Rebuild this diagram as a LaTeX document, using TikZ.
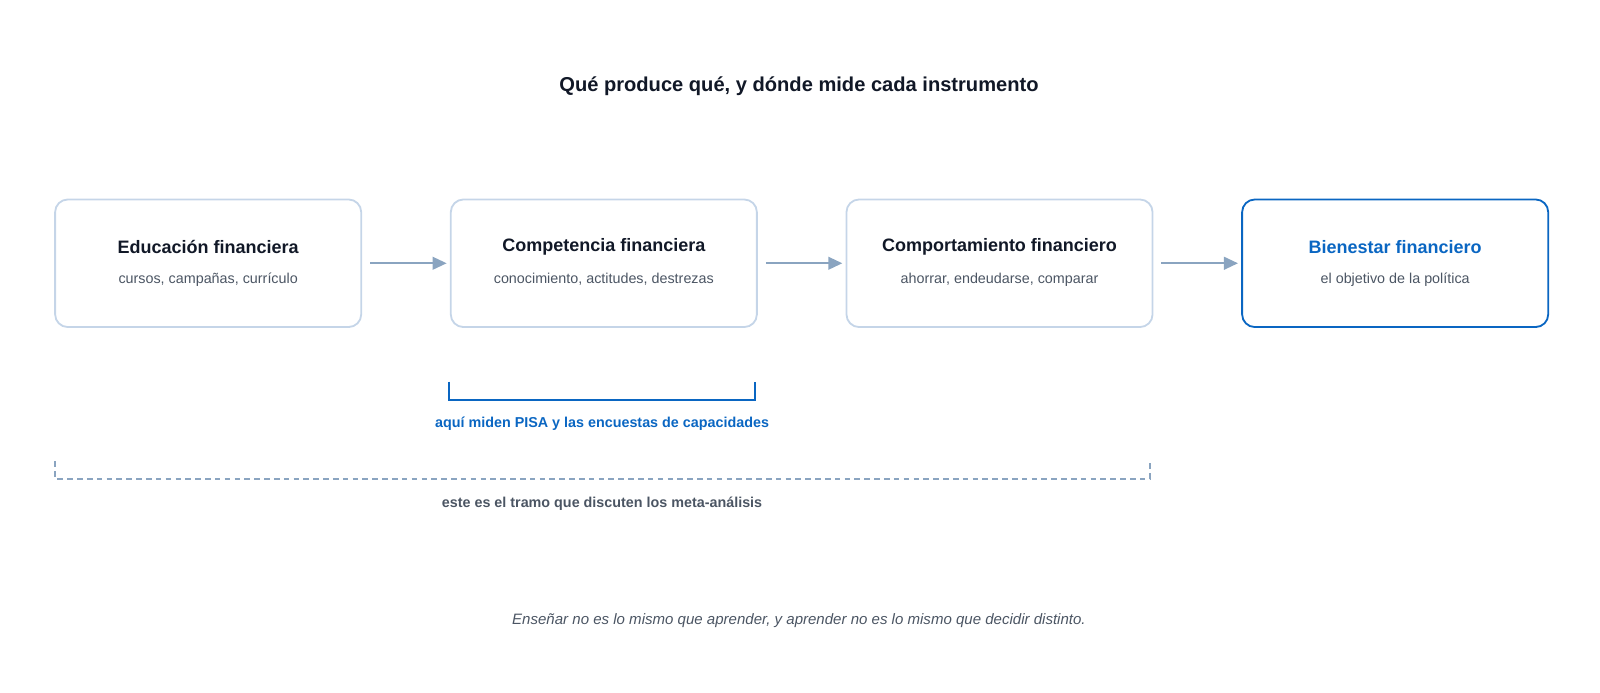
\documentclass[tikz,border=0pt]{standalone}
\usepackage{fontspec}
\setmainfont{Liberation Sans}
\usetikzlibrary{positioning,arrows.meta}
\definecolor{edgegray}{HTML}{C5D5E8}
\definecolor{arrowgray}{HTML}{8AA4C0}
\definecolor{polblue}{HTML}{0A66C2}
\definecolor{inkdark}{HTML}{111827}
\definecolor{inksub}{HTML}{4B5563}
\begin{document}
\begin{tikzpicture}[
        x=0.02551cm, y=-0.02551cm,
        node distance=2.194cm,
        stage/.style={draw=edgegray, line width=1.3pt, rounded corners=9pt, minimum width=7.653cm, minimum height=3.19cm, align=center},
        head/.style={font=\fontsize{12.8}{15}\selectfont\bfseries, text=inkdark},
        sub/.style={font=\fontsize{10.2}{12}\selectfont, text=inksub},
        flow/.style={draw=arrowgray, line width=1.5pt, -{Triangle[length=10pt,width=9pt]}},
    ]
    \useasboundingbox (0,0) rectangle (1568,679);

    \node[font=\fontsize{14.3}{17}\selectfont\bfseries, text=inkdark] (title) at (783,84) {Qué produce qué, y dónde mide cada instrumento};

    % etapas de la cadena
    \node[stage] (edu) at (204,258) {};
    \node[stage, right=of edu] (comp) {};
    \node[stage, right=of comp] (cond) {};
    \node[stage, right=of cond, draw=polblue] (bien) {};

    \node[head] at ([yshift=0.41cm]edu.center) {Educación financiera};
    \node[sub] at ([yshift=-0.41cm]edu.center) {cursos, campañas, currículo};
    \node[head] at ([yshift=0.41cm]comp.center) {Competencia financiera};
    \node[sub] at ([yshift=-0.41cm]comp.center) {conocimiento, actitudes, destrezas};
    \node[head] at ([yshift=0.41cm]cond.center) {Comportamiento financiero};
    \node[sub] at ([yshift=-0.41cm]cond.center) {ahorrar, endeudarse, comparar};
    \node[head, text=polblue] at ([yshift=0.41cm]bien.center) {Bienestar financiero};
    \node[sub] at ([yshift=-0.41cm]bien.center) {el objetivo de la política};

    \draw[flow] ([xshift=0.2cm]edu.east) -- ([xshift=-0.08cm]comp.west);
    \draw[flow] ([xshift=0.2cm]comp.east) -- ([xshift=-0.08cm]cond.west);
    \draw[flow] ([xshift=0.2cm]cond.east) -- ([xshift=-0.08cm]bien.west);

    % tramos medidos
    \coordinate (pa) at (440,374);
    \coordinate (pb) at (740,374);
    \draw[polblue, line width=1.5pt] (pa) -- ++(0,18) -| (pb);
    \node[font=\fontsize{10.2}{12}\selectfont\bfseries, text=polblue] (pisa) at (590,415) {aquí miden PISA y las encuestas de capacidades};

    \coordinate (ma) at (54,452);
    \coordinate (mb) at (1127,452);
    \draw[arrowgray, line width=1.5pt, dash pattern=on 4pt off 3pt] (ma) -- ++(0,17) -| (mb);
    \node[font=\fontsize{10.2}{12}\selectfont\bfseries, text=inksub] (meta) at (590,494) {este es el tramo que discuten los meta-análisis};

    \node[font=\fontsize{10.7}{12}\selectfont\itshape, text=inksub] (nota) at (783,608) {Enseñar no es lo mismo que aprender, y aprender no es lo mismo que decidir distinto.};
\end{tikzpicture}
\end{document}
